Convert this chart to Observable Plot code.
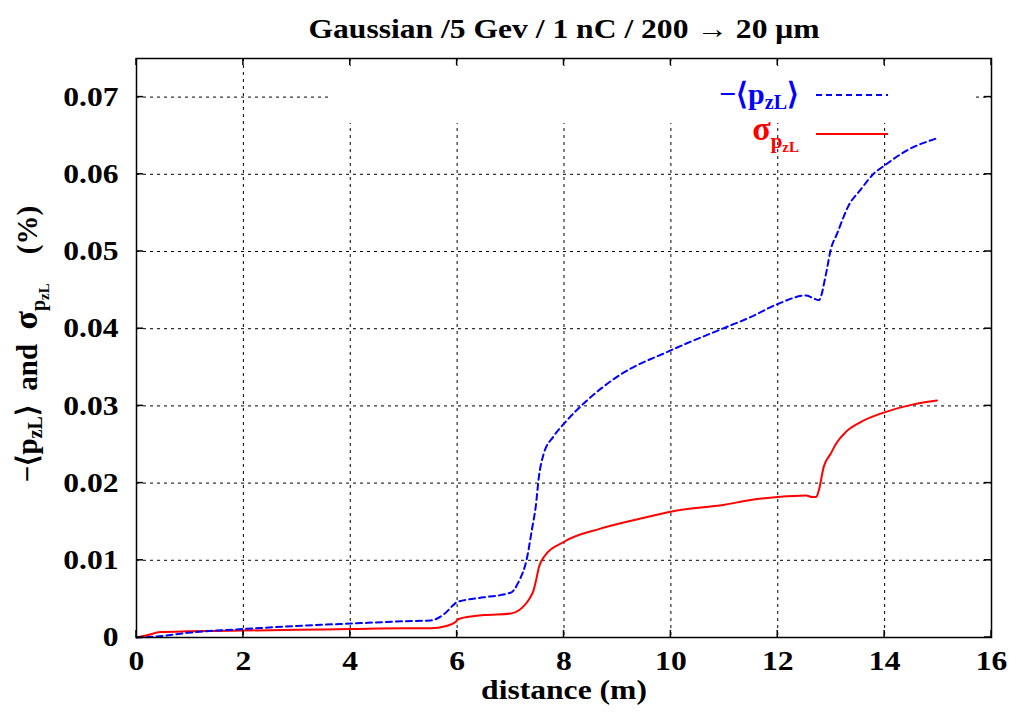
<!DOCTYPE html>
<html>
<head>
<meta charset="utf-8">
<script src="https://cdn.jsdelivr.net/npm/d3@7"></script>
<script src="https://cdn.jsdelivr.net/npm/@observablehq/plot@0.6"></script>
<style>
  html, body { margin: 0; padding: 0; background: white; }
</style>
</head>
<body>
<div id="chart"></div>
<script>
const titleText = "Gaussian /5 Gev / 1 nC / 200 \u2192 20 \u03bcm";
const xLabel = "distance (m)";
const xTicks = [0, 2, 4, 6, 8, 10, 12, 14, 16];
const yTicks = [0, 0.01, 0.02, 0.03, 0.04, 0.05, 0.06, 0.07];
const yTickLabels = ["0", "0.01", "0.02", "0.03", "0.04", "0.05", "0.06", "0.07"];

// -<p_zL>  (blue dashed)
const meanX = [0, 0.33, 0.95, 1.5, 2, 3, 4, 5, 5.5, 5.75, 5.93, 6.0, 6.5, 7.0, 7.15, 7.31, 7.4, 7.47, 7.53, 7.62, 7.8, 8.0, 8.43, 9, 10, 11, 11.49, 12, 12.53, 12.65, 12.77, 12.9, 12.99, 13.11, 13.33, 13.55, 13.8, 14.01, 14.42, 14.95];
const meanY = [0, 0.0001, 0.0006, 0.0009, 0.0011, 0.0015, 0.0018, 0.0021, 0.0022, 0.0030, 0.0042, 0.0046, 0.0052, 0.0058, 0.0072, 0.0104, 0.0140, 0.0169, 0.0208, 0.0238, 0.0260, 0.0277, 0.0307, 0.0338, 0.0372, 0.0401, 0.0415, 0.0432, 0.0443, 0.0440, 0.0437, 0.0470, 0.0502, 0.0523, 0.0560, 0.0580, 0.0601, 0.0612, 0.0631, 0.0646];

// sigma_pzL (red solid)
const sigX = [0, 0.2, 0.45, 1, 2, 3, 4, 5, 5.5, 5.8, 5.97, 6.03, 6.5, 7.0, 7.15, 7.25, 7.35, 7.43, 7.48, 7.53, 7.62, 8.0, 8.68, 9.62, 10, 11, 11.49, 12, 12.53, 12.64, 12.72, 12.77, 12.86, 12.99, 13.1, 13.27, 13.55, 14.01, 14.54, 14.98];
const sigY = [0, 0.0003, 0.0007, 0.0008, 0.0009, 0.0010, 0.0011, 0.0012, 0.0012, 0.0015, 0.0020, 0.0024, 0.0029, 0.0031, 0.0035, 0.0041, 0.0050, 0.0061, 0.0075, 0.0091, 0.0104, 0.0124, 0.0141, 0.0157, 0.0163, 0.0172, 0.0178, 0.0182, 0.0184, 0.0182, 0.0182, 0.0191, 0.0221, 0.0238, 0.0252, 0.0266, 0.0279, 0.0292, 0.0302, 0.0307];

(function () {
const meanData = meanX.map((x, i) => ({x, y: meanY[i]}));
const sigData = sigX.map((x, i) => ({x, y: sigY[i]}));

const FONT = "'Liberation Serif', 'Times New Roman', serif";
const BLUE = "#0000ff";
const RED = "#ff0000";
const mLeft = 136, mRight = 25, mTop = 58, mBottom = 76, W = 1016, H = 713;

const chart = Plot.plot({
  width: W,
  height: H,
  marginLeft: mLeft,
  marginRight: mRight,
  marginTop: mTop,
  marginBottom: mBottom,
  style: {fontFamily: FONT, fontWeight: "bold", fontSize: "27px", background: "white", color: "black"},
  x: {domain: [0, 16], ticks: xTicks},
  y: {domain: [0, 0.075], ticks: yTicks},
  marks: [
    Plot.gridX(xTicks, {stroke: "black", strokeOpacity: 1, strokeWidth: 1, strokeDasharray: "3,4"}),
    Plot.gridY(yTicks, {stroke: "black", strokeOpacity: 1, strokeWidth: 1, strokeDasharray: "3,4"}),
    Plot.axisX(xTicks, {tickSize: 0, tickPadding: 13, label: null, tickFormat: d => String(d)}),
    Plot.axisY(yTicks, {tickSize: 0, tickPadding: 18, label: null, tickFormat: (d, i) => yTickLabels[i]}),
    Plot.text([xLabel], {frameAnchor: "bottom", dy: 61, fontSize: 27, fontWeight: "bold"}),
    Plot.text([titleText], {frameAnchor: "top", dy: -40, fontSize: 27, fontWeight: "bold"}),
    Plot.line(sigData, {x: "x", y: "y", stroke: RED, strokeWidth: 2, curve: "monotone-x"}),
    Plot.line(meanData, {x: "x", y: "y", stroke: BLUE, strokeWidth: 2, strokeDasharray: "6,4", curve: "monotone-x"}),
    Plot.frame({stroke: "black", strokeWidth: 1.5})
  ]
});

document.getElementById("chart").appendChild(chart);

// widen the glyphs horizontally like the reference's stretched serif font
chart.querySelectorAll("text").forEach(t => {
  const len = t.getComputedTextLength();
  if (len > 0) {
    t.setAttribute("textLength", (len * 1.17).toFixed(1));
    t.setAttribute("lengthAdjust", "spacingAndGlyphs");
  }
});

const xs = chart.scale("x");
const ys = chart.scale("y");
const svg = d3.select(chart);
const fLeft = mLeft, fRight = W - mRight, fTop = mTop, fBottom = H - mBottom;

// key background mask (covers grid behind the key)
const frameNode = svg.select("[aria-label=frame]").node();
svg.insert("rect", () => frameNode)
  .attr("x", fLeft + 194).attr("y", fTop + 8).attr("width", 645).attr("height", 57)
  .attr("fill", "white");

// inward ticks on all four sides
const tg = svg.append("g").attr("stroke", "black").attr("stroke-width", 1.5);
xTicks.forEach(v => {
  const px = xs.apply(v);
  tg.append("line").attr("x1", px).attr("x2", px).attr("y1", fBottom).attr("y2", fBottom - 7);
  tg.append("line").attr("x1", px).attr("x2", px).attr("y1", fTop).attr("y2", fTop + 7);
});
yTicks.forEach(v => {
  const py = ys.apply(v);
  tg.append("line").attr("x1", fLeft).attr("x2", fLeft + 7).attr("y1", py).attr("y2", py);
  tg.append("line").attr("x1", fRight).attr("x2", fRight - 7).attr("y1", py).attr("y2", py);
});

// Legend
const lg = svg.append("g").attr("font-family", FONT).attr("font-weight", "bold");
const t1 = lg.append("text").attr("x", 799).attr("y", 104).attr("text-anchor", "end")
  .attr("fill", BLUE).attr("font-size", 30);
t1.append("tspan").text("\u2212\u27e8p");
t1.append("tspan").attr("font-size", 20).attr("dy", 5).text("zL");
t1.append("tspan").attr("dy", -5).text("\u27e9");
lg.append("line").attr("x1", 816).attr("x2", 888).attr("y1", 95).attr("y2", 95)
  .attr("stroke", BLUE).attr("stroke-width", 2).attr("stroke-dasharray", "6,4");

const t2 = lg.append("text").attr("x", 799).attr("y", 140).attr("text-anchor", "end")
  .attr("fill", RED).attr("font-size", 34);
t2.append("tspan").text("\u03c3");
t2.append("tspan").attr("font-size", 21).attr("dy", 8).text("p");
t2.append("tspan").attr("font-size", 15).attr("dy", 4).text("zL");
lg.append("line").attr("x1", 816).attr("x2", 888).attr("y1", 134).attr("y2", 134)
  .attr("stroke", RED).attr("stroke-width", 2);

// Y axis label (rotated)
const yl = svg.append("text")
  .attr("transform", "translate(37,344) rotate(-90)")
  .attr("text-anchor", "middle")
  .attr("font-family", FONT).attr("font-weight", "bold").attr("font-size", 29)
  .attr("fill", "black");
yl.append("tspan").text("\u2212\u27e8p");
yl.append("tspan").attr("font-size", 20).attr("dy", 5).text("zL");
yl.append("tspan").attr("dy", -5).text("\u27e9\u00a0\u00a0and\u00a0\u00a0");
yl.append("tspan").attr("font-size", 34).text("\u03c3");
yl.append("tspan").attr("font-size", 20).attr("dy", 8).text("p");
yl.append("tspan").attr("font-size", 15).attr("dy", 4).text("zL");
yl.append("tspan").attr("dy", -12).text("\u00a0\u00a0\u00a0\u00a0(%)");
})();
</script>
</body>
</html>
